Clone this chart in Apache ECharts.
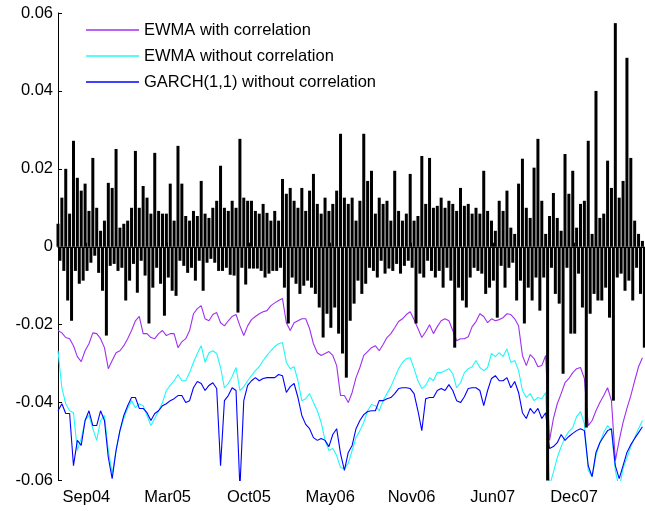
<!DOCTYPE html>
<html>
<head>
<meta charset="utf-8">
<script src="https://cdn.jsdelivr.net/npm/echarts@6/dist/echarts.min.js"></script>
<style>
  html, body { margin: 0; padding: 0; background: #fff; }
  #chart { width: 645px; height: 511px; }
</style>
</head>
<body>
<div id="chart"></div>
<script>
// Sampling of the stored series, in trading days
const RETURN_STEP = 3;
const VAR_STEP = 6;

// Daily portfolio returns (one value every RETURN_STEP trading days)
const returns = [
  0.0059,-0.0036, 0.0126,-0.0062, 0.0200,-0.0138, 0.0085,-0.0190, 0.0272,-0.0062,
  0.0177,-0.0095, 0.0144,-0.0087, 0.0162,-0.0062, 0.0092,-0.0041, 0.0228,-0.0023,
  0.0100,-0.0067, 0.0041,-0.0113, 0.0067,-0.0228, 0.0164,-0.0049, 0.0151,-0.0044,
  0.0251,-0.0062, 0.0049,-0.0054, 0.0059,-0.0138, 0.0067,-0.0087, 0.0100,-0.0044,
  0.0246,-0.0118, 0.0100,-0.0036, 0.0156,-0.0074, 0.0126,-0.0197, 0.0085,-0.0105,
  0.0241,-0.0054, 0.0092,-0.0095, 0.0085,-0.0177, 0.0085,-0.0079, 0.0162,-0.0113,
  0.0067,-0.0126, 0.0259,-0.0036, 0.0162,-0.0049, 0.0079,-0.0067, 0.0067,-0.0054,
  0.0092,-0.0087, 0.0079,-0.0036, 0.0169,-0.0113, 0.0085,-0.0041, 0.0074,-0.0031,
  0.0100,-0.0041, 0.0118,-0.0062, 0.0208,-0.0062, 0.0100,-0.0054, 0.0092,-0.0072,
  0.0118,-0.0074, 0.0100,-0.0169, 0.0277,-0.0054, 0.0126,-0.0097, 0.0118,-0.0056,
  0.0118,-0.0056, 0.0092,-0.0056, 0.0085,-0.0062, 0.0110,-0.0079, 0.0087,-0.0069,
  0.0067,-0.0062, 0.0092,-0.0062, 0.0067,-0.0054, 0.0174,-0.0105, 0.0136,-0.0197,
  0.0151,-0.0079, 0.0118,-0.0095, 0.0100,-0.0121, 0.0151,-0.0100, 0.0092,-0.0087,
  0.0144,-0.0105, 0.0187,-0.0121, 0.0110,-0.0156, 0.0085,-0.0233, 0.0126,-0.0172,
  0.0092,-0.0208, 0.0110,-0.0156, 0.0144,-0.0223, 0.0290,-0.0274, 0.0126,-0.0336,
  0.0110,-0.0190, 0.0126,-0.0146, 0.0067,-0.0087, 0.0118,-0.0121, 0.0290,-0.0095,
  0.0169,-0.0054, 0.0195,-0.0062, 0.0085,-0.0079, 0.0126,-0.0036, 0.0110,-0.0069,
  0.0118,-0.0056, 0.0067,-0.0062, 0.0195,-0.0044, 0.0092,-0.0069, 0.0067,-0.0049,
  0.0085,-0.0036, 0.0187,-0.0054, 0.0067,-0.0197, 0.0079,-0.0069, 0.0233,-0.0079,
  0.0110,-0.0036, 0.0228,-0.0062, 0.0100,-0.0079, 0.0105,-0.0062, 0.0126,-0.0105,
  0.0100,-0.0054, 0.0118,-0.0087, 0.0110,-0.0259, 0.0092,-0.0105, 0.0151,-0.0138,
  0.0105,-0.0156, 0.0110,-0.0079, 0.0085,-0.0054, 0.0100,-0.0062, 0.0085,-0.0069,
  0.0195,-0.0121, 0.0092,-0.0105, 0.0067,-0.0087, 0.0041,-0.0182, 0.0118,-0.0049,
  0.0092,-0.0105, 0.0144,-0.0054, 0.0049,-0.0041, 0.0033,-0.0138, 0.0162,-0.0087,
  0.0226,-0.0197, 0.0100,-0.0105, 0.0074,-0.0138, 0.0203,-0.0079, 0.0277,-0.0164,
  0.0118,-0.0079, 0.0033,-0.0677, 0.0079,-0.0054, 0.0138,-0.0121, 0.0074,-0.0146,
  0.0041,-0.0326, 0.0238,-0.0054, 0.0136,-0.0223, 0.0195,-0.0223, 0.0049,-0.0069,
  0.0110,-0.0156, 0.0118,-0.0464, 0.0272,-0.0172, 0.0033,-0.0121, 0.0400,-0.0138,
  0.0074,-0.0138, 0.0085,-0.0105, 0.0221,-0.0182, 0.0151,-0.0395, 0.0574,-0.0079,
  0.0126,-0.0069, 0.0169,-0.0113, 0.0485,-0.0087, 0.0228,-0.0138, 0.0067,-0.0054,
  0.0033,-0.0121, 0.0015,-0.0259
];

// Value-at-Risk estimates (one value every VAR_STEP trading days)
const ewmaWithCorr = [
  -0.0215,-0.0221,-0.0233,-0.0236,-0.0254,-0.0282,-0.0295,-0.0267,-0.0249,-0.0221,
  -0.0223,-0.0236,-0.0259,-0.0313,-0.0292,-0.0272,-0.0267,-0.0254,-0.0236,-0.0215,
  -0.0190,-0.0179,-0.0223,-0.0223,-0.0233,-0.0236,-0.0223,-0.0215,-0.0228,-0.0223,
  -0.0223,-0.0259,-0.0244,-0.0236,-0.0215,-0.0172,-0.0159,-0.0151,-0.0185,-0.0190,
  -0.0174,-0.0169,-0.0195,-0.0203,-0.0190,-0.0179,-0.0174,-0.0203,-0.0228,-0.0203,
  -0.0187,-0.0179,-0.0172,-0.0167,-0.0164,-0.0151,-0.0144,-0.0138,-0.0133,-0.0195,
  -0.0215,-0.0195,-0.0190,-0.0185,-0.0185,-0.0210,-0.0249,-0.0272,-0.0279,-0.0274,
  -0.0269,-0.0279,-0.0305,-0.0382,-0.0382,-0.0400,-0.0374,-0.0336,-0.0310,-0.0279,
  -0.0269,-0.0259,-0.0254,-0.0267,-0.0251,-0.0233,-0.0223,-0.0208,-0.0192,-0.0185,
  -0.0174,-0.0167,-0.0187,-0.0210,-0.0233,-0.0218,-0.0200,-0.0223,-0.0205,-0.0190,
  -0.0185,-0.0190,-0.0215,-0.0241,-0.0236,-0.0236,-0.0231,-0.0205,-0.0192,-0.0172,
  -0.0179,-0.0195,-0.0185,-0.0190,-0.0187,-0.0182,-0.0172,-0.0174,-0.0185,-0.0203,
  -0.0279,-0.0305,-0.0277,-0.0287,-0.0308,-0.0305,-0.0279,-0.0497,-0.0441,-0.0403,
  -0.0377,-0.0349,-0.0338,-0.0323,-0.0313,-0.0310,-0.0338,-0.0459,-0.0446,-0.0421,
  -0.0400,-0.0382,-0.0362,-0.0395,-0.0549,-0.0497,-0.0451,-0.0415,-0.0382,-0.0344,
  -0.0308,-0.0285
];

const ewmaWithoutCorr = [
  -0.0267,-0.0362,-0.0403,-0.0421,-0.0426,-0.0523,-0.0492,-0.0446,-0.0433,-0.0467,
  -0.0497,-0.0446,-0.0433,-0.0523,-0.0582,-0.0523,-0.0472,-0.0441,-0.0415,-0.0395,
  -0.0413,-0.0403,-0.0408,-0.0433,-0.0459,-0.0441,-0.0421,-0.0400,-0.0369,-0.0356,
  -0.0344,-0.0328,-0.0344,-0.0344,-0.0323,-0.0297,-0.0274,-0.0254,-0.0297,-0.0272,
  -0.0267,-0.0274,-0.0310,-0.0362,-0.0351,-0.0333,-0.0310,-0.0369,-0.0359,-0.0344,
  -0.0331,-0.0318,-0.0308,-0.0292,-0.0279,-0.0267,-0.0256,-0.0249,-0.0246,-0.0297,
  -0.0313,-0.0308,-0.0344,-0.0395,-0.0390,-0.0377,-0.0400,-0.0421,-0.0451,-0.0497,
  -0.0523,-0.0518,-0.0536,-0.0567,-0.0569,-0.0556,-0.0523,-0.0490,-0.0472,-0.0451,
  -0.0421,-0.0405,-0.0408,-0.0421,-0.0395,-0.0377,-0.0359,-0.0336,-0.0313,-0.0297,
  -0.0287,-0.0285,-0.0313,-0.0344,-0.0364,-0.0356,-0.0336,-0.0344,-0.0323,-0.0323,
  -0.0318,-0.0313,-0.0326,-0.0362,-0.0349,-0.0323,-0.0313,-0.0308,-0.0292,-0.0310,
  -0.0318,-0.0310,-0.0274,-0.0282,-0.0272,-0.0282,-0.0262,-0.0297,-0.0292,-0.0318,
  -0.0369,-0.0387,-0.0377,-0.0395,-0.0387,-0.0390,-0.0374,-0.0613,-0.0579,-0.0541,
  -0.0513,-0.0490,-0.0474,-0.0464,-0.0436,-0.0423,-0.0454,-0.0574,-0.0590,-0.0536,
  -0.0503,-0.0477,-0.0459,-0.0472,-0.0574,-0.0621,-0.0569,-0.0541,-0.0513,-0.0490,
  -0.0467,-0.0446
];

const garchWithoutCorr = [
  -0.0421,-0.0403,-0.0428,-0.0428,-0.0562,-0.0497,-0.0510,-0.0446,-0.0421,-0.0459,
  -0.0459,-0.0421,-0.0446,-0.0541,-0.0595,-0.0523,-0.0472,-0.0433,-0.0408,-0.0387,
  -0.0387,-0.0415,-0.0415,-0.0426,-0.0446,-0.0428,-0.0421,-0.0408,-0.0403,-0.0395,
  -0.0390,-0.0382,-0.0382,-0.0400,-0.0395,-0.0362,-0.0346,-0.0351,-0.0369,-0.0356,
  -0.0349,-0.0364,-0.0562,-0.0395,-0.0382,-0.0362,-0.0369,-0.0620,-0.0395,-0.0356,
  -0.0344,-0.0336,-0.0344,-0.0338,-0.0336,-0.0336,-0.0336,-0.0328,-0.0331,-0.0374,
  -0.0359,-0.0351,-0.0387,-0.0433,-0.0456,-0.0467,-0.0490,-0.0497,-0.0492,-0.0497,
  -0.0513,-0.0482,-0.0467,-0.0531,-0.0574,-0.0528,-0.0510,-0.0467,-0.0446,-0.0431,
  -0.0423,-0.0421,-0.0421,-0.0395,-0.0395,-0.0390,-0.0387,-0.0377,-0.0364,-0.0362,
  -0.0362,-0.0364,-0.0377,-0.0421,-0.0472,-0.0390,-0.0387,-0.0387,-0.0369,-0.0364,
  -0.0369,-0.0354,-0.0369,-0.0395,-0.0400,-0.0385,-0.0364,-0.0362,-0.0362,-0.0369,
  -0.0408,-0.0369,-0.0338,-0.0331,-0.0344,-0.0344,-0.0336,-0.0362,-0.0346,-0.0374,
  -0.0426,-0.0441,-0.0415,-0.0428,-0.0415,-0.0441,-0.0426,-0.0518,-0.0513,-0.0503,
  -0.0482,-0.0497,-0.0487,-0.0479,-0.0472,-0.0467,-0.0472,-0.0562,-0.0590,-0.0528,
  -0.0503,-0.0487,-0.0472,-0.0467,-0.0562,-0.0595,-0.0562,-0.0528,-0.0508,-0.0492,
  -0.0477,-0.0462
];

// Date ticks along the trading-day axis
const tickDays = [44, 170, 296, 422, 548, 674, 800];
const tickLabels = ['Sep04', 'Mar05', 'Oct05', 'May06', 'Nov06', 'Jun07', 'Dec07'];

const seriesNames = ['EWMA with correlation', 'EWMA without correlation', 'GARCH(1,1) without correlation'];
const seriesColors = ['#A030F0', '#20F8F8', '#0000FF'];
const varSeries = [ewmaWithCorr, ewmaWithoutCorr, garchWithoutCorr];

const FONT = '"Liberation Sans", Arial, sans-serif';

const chart = echarts.init(document.getElementById('chart'), null, { renderer: 'canvas' });

const lineSeries = varSeries.map((vals, k) => ({
  name: seriesNames[k],
  type: 'line',
  data: vals.map((v, i) => [i * VAR_STEP, v]),
  symbol: 'none',
  showSymbol: false,
  clip: true,
  color: seriesColors[k],
  lineStyle: { width: 1.1, color: seriesColors[k] },
  z: 2
}));

chart.setOption({
  animation: false,
  backgroundColor: '#fff',
  grid: { left: 58, right: 0, top: 13, bottom: 30.5, containLabel: false },
  legend: {
    data: seriesNames,
    orient: 'vertical',
    left: 86,
    top: 17,
    icon: 'rect',
    itemWidth: 53,
    itemHeight: 1.5,
    itemGap: 0,
    padding: 0,
    selectedMode: false,
    textStyle: { fontFamily: FONT, fontSize: 16.5, color: '#000', lineHeight: 26 }
  },
  xAxis: {
    type: 'value',
    min: 0,
    max: 910,
    splitLine: { show: false },
    axisLine: { show: true, lineStyle: { color: '#000', width: 1 } },
    axisTick: { show: true, inside: true, length: 4, customValues: tickDays, lineStyle: { color: '#000' } },
    axisLabel: {
      customValues: tickDays,
      margin: 8,
      fontFamily: FONT,
      fontSize: 16.5,
      color: '#000',
      formatter: (v) => tickLabels[tickDays.indexOf(v)]
    }
  },
  yAxis: {
    type: 'value',
    min: -0.06,
    max: 0.06,
    interval: 0.02,
    splitLine: { show: false },
    axisLine: { show: true, lineStyle: { color: '#000', width: 1 } },
    axisTick: { show: true, inside: true, length: 4, lineStyle: { color: '#000' } },
    axisLabel: {
      margin: 5,
      fontFamily: FONT,
      fontSize: 16.5,
      color: '#000',
      formatter: (v) => String(Math.round(v * 100) / 100)
    }
  },
  series: lineSeries.concat([{
    name: 'returns',
    type: 'bar',
    data: returns.map((v, i) => [i * RETURN_STEP, v]),
    barWidth: 3,
    clip: true,
    itemStyle: { color: '#000' },
    z: 3
  }])
});
</script>
</body>
</html>
